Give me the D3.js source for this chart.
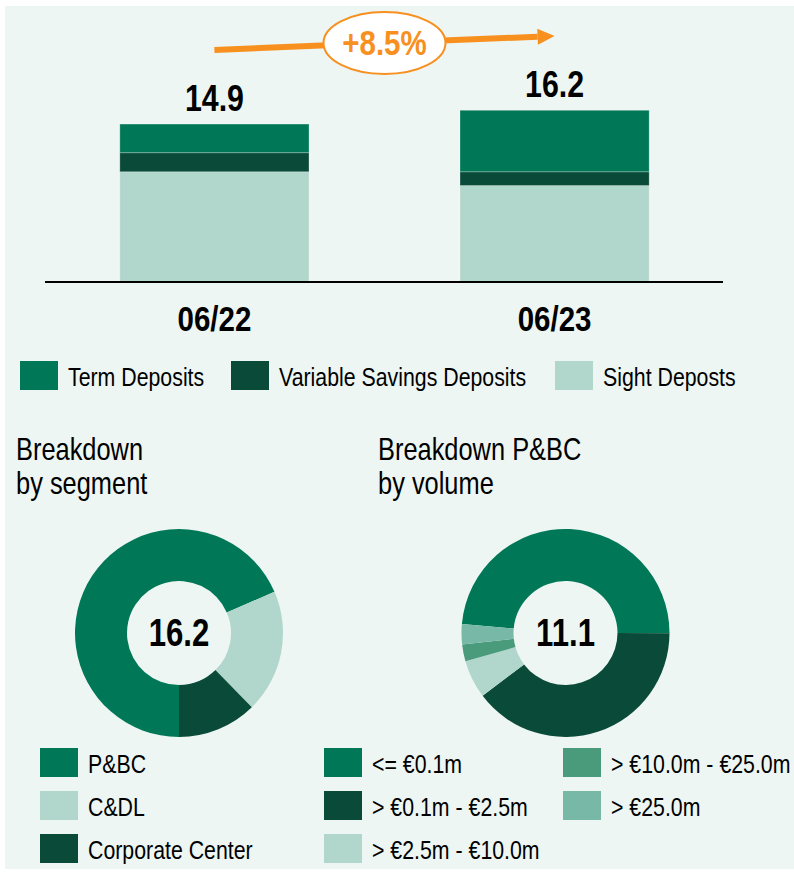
<!DOCTYPE html>
<html>
<head>
<meta charset="utf-8">
<script src="https://cdn.jsdelivr.net/npm/d3@7"></script>
<style>
  body { margin: 0; background: #ffffff; }
  svg text { font-family: "Liberation Sans", Arial, sans-serif; }
</style>
</head>
<body>
<div id="chart"></div>
<script>
// data
const periods = ["06/22", "06/23"];
const depositTypes = ["Term Deposits", "Variable Savings Deposits", "Sight Deposts"];
const termDeposits = [2.7, 5.8];
const variableSavings = [1.8, 1.3];
const sightDeposits = [10.4, 9.1];
const totals = [14.9, 16.2];
const growthLabel = "+8.5%";

const segments = ["P&BC", "C&DL", "Corporate Center"];
const segmentValues = [11.1, 3.1, 2.0];
const segmentTotal = "16.2";

const volumeBands = ["<= €0.1m", "> €0.1m - €2.5m", "> €2.5m - €10.0m", "> €10.0m - €25.0m", "> €25.0m"];
const volumeValues = [5.4, 4.4, 0.66, 0.29, 0.35];
const volumeTotal = "11.1";

(function deposits(){
    let width = 794, height = 872;
    const green = "#007857", dark = "#0A4A38", light = "#B1D7CC",
          mid = "#4A9A7C", soft = "#78B8A6", orange = "#F7901E";
    const squeeze = 0.82;   // no narrow font installed, so squash Liberation Sans

    const svg = d3.select("#chart")
      .append("svg")
      .attr("width", width)
      .attr("height", height)
      .attr("viewBox", [0, 0, width, height]);

    // place text with a horizontal squeeze
    const place = (sel, fx, fy) => sel
      .attr("transform", (d, i) => `translate(${fx(d, i)},${fy(d, i)}) scale(${squeeze},1)`);

    // panel
    svg.append("rect")
      .attr("x", 5).attr("y", 6)
      .attr("width", width - 5).attr("height", 863)
      .attr("fill", "#EDF6F2");

    // stacked bars
    let x = d3.scaleBand()
      .domain(periods)
      .range([45, 724])
      .paddingInner(0.444)
      .paddingOuter(0.22);

    let y = d3.scaleLinear()
      .domain([0, 20])
      .range([282, 70]);

    let rows = periods.map((p, i) => ({
        period: p,
        "Term Deposits": termDeposits[i],
        "Variable Savings Deposits": variableSavings[i],
        "Sight Deposts": sightDeposits[i]
    }));

    let stack = d3.stack().keys(depositTypes.slice().reverse());
    let barColor = d3.scaleOrdinal().domain(depositTypes).range([green, dark, light]);

    let bars = svg.append("g").classed("bars", true);
    bars.selectAll("g")
      .data(stack(rows))
      .join("g")
      .attr("fill", d => barColor(d.key))
      .selectAll("rect")
      .data(d => d)
      .join("rect")
      .attr("x", d => x(d.data.period))
      .attr("y", d => y(d[1]))
      .attr("width", x.bandwidth())
      .attr("height", d => y(d[0]) - y(d[1]))
      .attr("stroke", "#ffffff")
      .attr("stroke-opacity", 0.25)
      .attr("stroke-width", 1);

    // baseline
    svg.append("line")
      .attr("x1", 45).attr("x2", 723)
      .attr("y1", y(0)).attr("y2", y(0))
      .attr("stroke", "#000").attr("stroke-width", 2);

    // totals
    svg.selectAll("text.total")
      .data(periods)
      .join("text")
      .classed("total", true)
      .call(place, d => x(d) + x.bandwidth() / 2, (d, i) => y(totals[i]) - 13)
      .attr("text-anchor", "middle")
      .attr("font-size", 37)
      .attr("font-weight", "bold")
      .text((d, i) => totals[i].toFixed(1));

    // category labels
    svg.selectAll("text.period")
      .data(periods)
      .join("text")
      .classed("period", true)
      .call(place, d => x(d) + x.bandwidth() / 2, () => 331)
      .attr("text-anchor", "middle")
      .attr("font-size", 36)
      .attr("font-weight", "bold")
      .text(d => d);

    // growth arrow
    let x0 = x(periods[0]) + x.bandwidth() / 2,
        x1 = x(periods[1]) + x.bandwidth() / 2,
        y0 = 50, y1 = 36;
    let ang = Math.atan2(y1 - y0, x1 - x0);
    let headLen = 17, headHalf = 8;
    let bx = x1 - headLen * Math.cos(ang), by = y1 - headLen * Math.sin(ang);
    svg.append("line")
      .attr("x1", x0).attr("y1", y0)
      .attr("x2", bx).attr("y2", by)
      .attr("stroke", orange).attr("stroke-width", 6);
    svg.append("path")
      .attr("d", `M${x1},${y1}L${bx - headHalf * Math.sin(ang)},${by + headHalf * Math.cos(ang)}L${bx + headHalf * Math.sin(ang)},${by - headHalf * Math.cos(ang)}Z`)
      .attr("fill", orange);
    let cx = (x0 + x1) / 2, cy = 43;
    svg.append("ellipse")
      .attr("cx", cx).attr("cy", cy)
      .attr("rx", 61).attr("ry", 31)
      .attr("fill", "#ffffff")
      .attr("stroke", orange).attr("stroke-width", 2);
    svg.append("text")
      .call(place, () => cx, () => cy + 12)
      .attr("text-anchor", "middle")
      .attr("font-size", 36)
      .attr("font-weight", "bold")
      .attr("fill", orange)
      .text(growthLabel);

    // deposit legend
    let legX = [20, 231, 555];
    let leg = svg.append("g").selectAll("g")
      .data(depositTypes)
      .join("g")
      .attr("transform", (d, i) => `translate(${legX[i]},361)`);
    leg.append("rect").attr("width", 38).attr("height", 29).attr("fill", d => barColor(d));
    leg.append("text").call(place, () => 48, () => 25).attr("font-size", 26).text(d => d);

    // titles
    const titles = [["Breakdown", "by segment"], ["Breakdown P&BC", "by volume"]];
    svg.selectAll("text.title")
      .data(titles)
      .join("text")
      .classed("title", true)
      .call(place, (d, i) => i === 0 ? 16 : 378, () => 460)
      .attr("font-size", 31)
      .selectAll("tspan")
      .data(d => d)
      .join("tspan")
      .attr("x", 0)
      .attr("dy", (d, i) => i === 0 ? 0 : 34)
      .text(d => d);

    // donuts
    let arc = d3.arc().innerRadius(52).outerRadius(104);

    function donut(cxp, values, colors, start, label) {
        let pie = d3.pie().sort(null).startAngle(start).endAngle(start + 2 * Math.PI);
        let g = svg.append("g").attr("transform", `translate(${cxp},633)`);
        g.selectAll("path")
          .data(pie(values))
          .join("path")
          .attr("d", arc)
          .attr("fill", (d, i) => colors[i]);
        g.append("text")
          .call(place, () => 0, () => 13)
          .attr("text-anchor", "middle")
          .attr("font-size", 38)
          .attr("font-weight", "bold")
          .text(label);
    }

    const segColors = [green, light, dark];
    const volColors = [green, dark, light, mid, soft];
    donut(179, segmentValues, segColors, Math.PI, segmentTotal);
    donut(565.5, volumeValues, volColors, -85 * Math.PI / 180, volumeTotal);

    // bottom legends
    function legend(items, colors, xs, perCol) {
        let g = svg.append("g").selectAll("g")
          .data(items)
          .join("g")
          .attr("transform", (d, i) => `translate(${xs[Math.floor(i / perCol)]},${748 + (i % perCol) * 43})`);
        g.append("rect").attr("width", 38).attr("height", 29).attr("fill", (d, i) => colors[i]);
        g.append("text").call(place, () => 48, () => 25).attr("font-size", 26).text(d => d);
    }
    legend(segments, segColors, [40], 3);
    legend(volumeBands, volColors, [324, 563], 3);

    return svg.node();
})();
</script>
</body>
</html>
